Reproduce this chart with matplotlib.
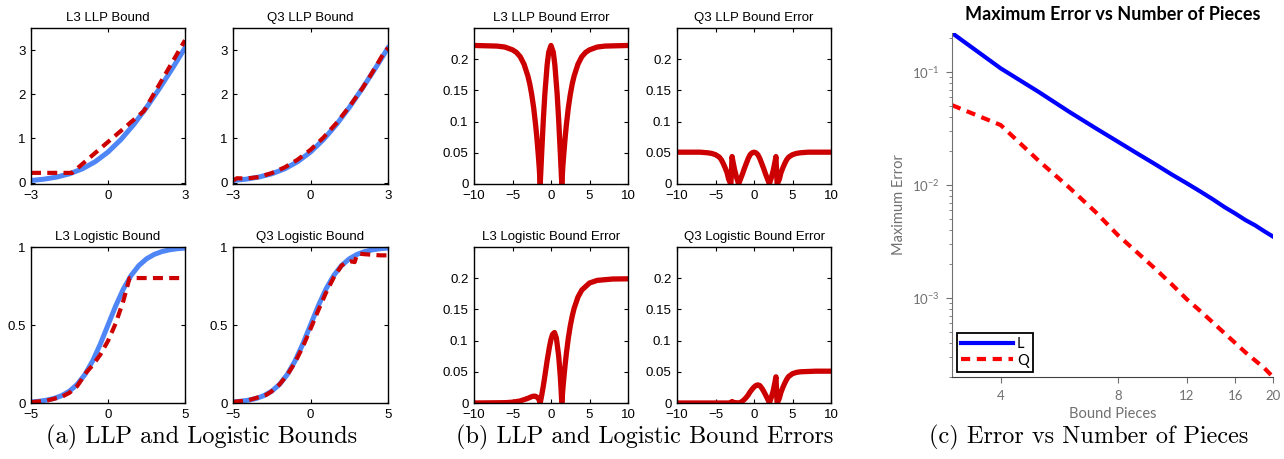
import matplotlib
matplotlib.use('Agg')
import matplotlib.pyplot as plt
import numpy as np

# ---- (a) LLP and logistic bounds ----
llp_x = [-3, -2.5, -2, -1.5, -1, -0.5, 0, 0.5, 1, 1.5, 2, 2.5, 3]
llp_true = [0.049, 0.079, 0.127, 0.201, 0.313, 0.474, 0.693, 0.974, 1.313, 1.701, 2.127, 2.579, 3.049]

l3_llp_x = [-3, -1.4, 1.4, 3]
l3_llp = [0.222, 0.222, 1.622, 3.222]

q3_llp_x = [-3, -2.85, -2.6, -2.3, -2, -1.5, -1, -0.5, 0, 0.5, 1, 1.5, 2, 2.3, 2.6, 2.85, 3]
q3_llp = [0.049, 0.100, 0.096, 0.106, 0.127, 0.217, 0.346, 0.521, 0.744, 1.021, 1.346,
          1.717, 2.127, 2.406, 2.696, 2.950, 3.049]

sig_x = [-5, -4.5, -4, -3.5, -3, -2.5, -2, -1.5, -1, -0.5, 0, 0.5, 1, 1.5, 2, 2.5, 3, 3.5, 4, 4.5, 5]
sig_true = [0.0067, 0.0110, 0.0180, 0.0293, 0.0474, 0.0759, 0.1192, 0.1824, 0.2689, 0.3775, 0.5,
            0.6225, 0.7311, 0.8176, 0.8808, 0.9241, 0.9526, 0.9707, 0.9820, 0.9890, 0.9933]

l3_sig_x = [-5, -4, -3, -2.5, -2, -1.4, -1, -0.5, 0, 0.5, 1, 1.4, 5]
l3_sig = [0.0054, 0.0147, 0.0399, 0.0657, 0.1084, 0.1973, 0.2417, 0.3097, 0.398, 0.5105, 0.6557, 0.801, 0.801]

q3_sig_x = [-5, -4, -3, -2.85, -2.5, -2, -1.5, -1, -0.5, 0, 0.5, 1, 1.5, 2, 2.3, 2.6, 2.85, 3.0,
            3.2, 3.5, 4, 4.5, 5]
q3_sig = [0.0067, 0.018, 0.0474, 0.0523, 0.0754, 0.1192, 0.1794, 0.2599, 0.3595, 0.4745, 0.5935,
          0.7071, 0.8046, 0.8808, 0.8999, 0.9079, 0.9033, 0.9526, 0.9568, 0.9537, 0.950, 0.9465, 0.9463]

# ---- (b) bound errors ----
l3_llp_err_x = [-10, -7, -6, -5, -4.5, -4, -3.5, -3, -2.75, -2.5, -2.25, -2, -1.85, -1.7, -1.55, -1.4,
                -1.2, -1, -0.8, -0.5, -0.3, 0, 0.3, 0.5, 0.8, 1, 1.2, 1.4, 1.55, 1.7, 1.85, 2, 2.25,
                2.5, 2.75, 3, 3.5, 4, 4.5, 5, 6, 7, 10]
l3_llp_err = [0.222, 0.221, 0.2195, 0.215, 0.211, 0.204, 0.192, 0.173, 0.160, 0.143, 0.122, 0.095,
              0.076, 0.054, 0.030, 0.0, 0.052, 0.102, 0.144, 0.191, 0.211, 0.222, 0.211, 0.191, 0.144,
              0.102, 0.052, 0.0, 0.030, 0.054, 0.076, 0.095, 0.122, 0.143, 0.160, 0.173, 0.192, 0.204,
              0.211, 0.215, 0.2195, 0.221, 0.222]

q3_llp_err_x = [-10, -7, -6, -5.5, -5, -4.5, -4.25, -4, -3.75, -3.5, -3.3, -3.1, -3.0, -2.85, -2.7,
                -2.5, -2.25, -2.0, -1.75, -1.5, -1.25, -1, -0.75, -0.5, -0.25, 0, 0.25, 0.5, 0.75, 1,
                1.25, 1.5, 1.75, 2.0, 2.25, 2.5, 2.7, 2.85, 3.0, 3.1, 3.3, 3.5, 3.75, 4, 4.25, 4.5, 5,
                5.5, 6, 7, 10]
q3_llp_err = [0.051, 0.051, 0.050, 0.049, 0.047, 0.043, 0.039, 0.033, 0.026, 0.018, 0.008, 0.002, 0.0,
              0.044, 0.034, 0.022, 0.010, 0.0, 0.008, 0.016, 0.025, 0.033, 0.041, 0.047, 0.050, 0.051,
              0.050, 0.047, 0.041, 0.033, 0.025, 0.016, 0.008, 0.0, 0.010, 0.022, 0.034, 0.044, 0.0,
              0.002, 0.008, 0.018, 0.026, 0.033, 0.039, 0.043, 0.047, 0.049, 0.050, 0.051, 0.051]

l3_sig_err_x = [-10, -6, -5, -4, -3, -2.5, -2.25, -2, -1.7, -1.55, -1.4, -1.2, -1, -0.8, -0.5, -0.2, 0,
                0.2, 0.45, 0.7, 1, 1.2, 1.3, 1.4, 1.55, 1.7, 1.85, 2, 2.25, 2.5, 2.75, 3, 3.5, 4, 5,
                6, 8, 10]
l3_sig_err = [0.0, 0.0005, 0.0013, 0.0033, 0.0075, 0.0102, 0.011, 0.0108, 0.0082, 0.005, 0.0, 0.013,
              0.027, 0.043, 0.068, 0.090, 0.102, 0.110, 0.113, 0.104, 0.075, 0.044, 0.024, 0.0, 0.024,
              0.0445, 0.063, 0.0798, 0.104, 0.1234, 0.139, 0.1516, 0.1697, 0.181, 0.1923, 0.1965,
              0.1987, 0.199]

q3_sig_err_x = [-10, -5, -3, -2.85, -2.7, -2, -1.75, -1.5, -1.25, -1, -0.75, -0.5, -0.25, 0, 0.25,
                0.5, 0.75, 1, 1.25, 1.5, 1.75, 2.0, 2.25, 2.5, 2.7, 2.85, 3.0, 3.1, 3.3, 3.5, 3.75, 4,
                4.25, 4.5, 5, 5.5, 6, 8, 10]
q3_sig_err = [0.0, 0.0, 0.0, 0.0024, 0.001, 0.0, 0.001, 0.003, 0.0056, 0.009, 0.013, 0.018, 0.022,
              0.0255, 0.028, 0.029, 0.028, 0.024, 0.019, 0.013, 0.007, 0.0, 0.009, 0.020, 0.032, 0.042,
              0.0, 0.002, 0.008, 0.017, 0.025, 0.032, 0.038, 0.0425, 0.047, 0.049, 0.050, 0.051, 0.051]

# ---- (c) max error vs pieces ----
pieces = list(range(3, 21))
err_L = [0.222, 0.108, 0.067, 0.0445, 0.0320, 0.0242, 0.0189, 0.0152, 0.0124, 0.0104, 0.0088,
         0.0075, 0.0064, 0.0056, 0.0049, 0.0044, 0.0039, 0.0035]
err_Q = [0.051, 0.034, 0.0165, 0.0095, 0.0058, 0.0036, 0.0025, 0.0018, 0.00132, 0.00098, 0.00077,
         0.00061, 0.00049, 0.00040, 0.00033, 0.00028, 0.00024, 0.00020]

BLUE = '#4f86f7'
RED = '#cc0000'
W, H = 1284, 459

plt.rcParams['font.family'] = ['Liberation Sans', 'DejaVu Sans']

fig = plt.figure(figsize=(W / 100, H / 100), dpi=100)


def rect(x0, y0, x1, y1):
    return [x0 / W, (H - y1) / H, (x1 - x0) / W, (y1 - y0) / H]


def small_axes(r, title, xlim, xticks, ylim, yticks):
    ax = fig.add_axes(r)
    ax.set_xlim(xlim)
    ax.set_ylim(ylim)
    ax.set_xticks(xticks)
    ax.set_xticklabels([('%g' % t).replace('-', '\u2212') for t in xticks])
    ax.set_yticks(yticks)
    ax.set_yticklabels(['%g' % t for t in yticks])
    ax.tick_params(direction='in', length=3, width=0.8, top=True, right=True,
                   labelsize=9.5, pad=4)
    for s in ax.spines.values():
        s.set_linewidth(1.0)
    ax.set_title(title, fontsize=9.5, pad=5)
    return ax


dash = (0, (2.4, 1.5))

# (a)
ax = small_axes(rect(31, 28, 185, 184), 'L3 LLP Bound', (-3, 3), [-3, 0, 3], (-0.03, 3.5), [0, 1, 2, 3])
ax.plot(llp_x, llp_true, color=BLUE, lw=3.6)
ax.plot(l3_llp_x, l3_llp, color=RED, lw=3.0, ls=dash)

ax = small_axes(rect(233, 28, 388, 184), 'Q3 LLP Bound', (-3, 3), [-3, 0, 3], (-0.03, 3.5), [0, 1, 2, 3])
ax.plot(llp_x, llp_true, color=BLUE, lw=3.6)
ax.plot(q3_llp_x, q3_llp, color=RED, lw=3.0, ls=dash)

ax = small_axes(rect(31, 247, 185, 403), 'L3 Logistic Bound', (-5, 5), [-5, 0, 5], (0, 1), [0, 0.5, 1])
ax.plot(sig_x, sig_true, color=BLUE, lw=3.6)
ax.plot(l3_sig_x, l3_sig, color=RED, lw=3.0, ls=dash)

ax = small_axes(rect(233, 247, 388, 403), 'Q3 Logistic Bound', (-5, 5), [-5, 0, 5], (0, 1), [0, 0.5, 1])
ax.plot(sig_x, sig_true, color=BLUE, lw=3.6)
ax.plot(q3_sig_x, q3_sig, color=RED, lw=3.0, ls=dash)

# (b)
eticks = [0, 0.05, 0.1, 0.15, 0.2]
xt = [-10, -5, 0, 5, 10]
for r, title, xs, ys in [
        (rect(474, 28, 628, 184), 'L3 LLP Bound Error', l3_llp_err_x, l3_llp_err),
        (rect(677, 28, 831, 184), 'Q3 LLP Bound Error', q3_llp_err_x, q3_llp_err),
        (rect(474, 247, 628, 403), 'L3 Logistic Bound Error', l3_sig_err_x, l3_sig_err),
        (rect(677, 247, 831, 403), 'Q3 Logistic Bound Error', q3_sig_err_x, q3_sig_err)]:
    ax = small_axes(r, title, (-10, 10), xt, (0, 0.25), eticks)
    ax.plot(xs, ys, color=RED, lw=3.8, solid_joinstyle='round', solid_capstyle='butt')

# (c)
GRAY = '#707070'
cfont = ['Lato', 'DejaVu Sans']
ax = fig.add_axes(rect(952, 33, 1273, 377))
ax.plot(pieces, err_L, color='#0000ff', lw=3.0, label='L')
ax.plot(pieces, err_Q, color='#ff0000', lw=3.0, ls=(0, (2.2, 1.6)), label='Q')
ax.set_xscale('log')
ax.set_yscale('log')
ax.set_xlim(3, 20)
ax.set_ylim(2.0e-4, 0.222)
ax.set_xticks([4, 8, 12, 16, 20])
ax.set_xticklabels(['4', '8', '12', '16', '20'])
ax.xaxis.set_minor_locator(matplotlib.ticker.NullLocator())
ax.spines['top'].set_visible(False)
ax.spines['right'].set_visible(False)
ax.spines['left'].set_color(GRAY)
ax.spines['bottom'].set_color('#404040')
ax.tick_params(which='both', colors=GRAY, labelcolor=GRAY, labelsize=9.5, direction='out')
ax.tick_params(which='major', length=4, pad=5)
ax.tick_params(which='minor', length=2)
for lab in ax.get_xticklabels() + ax.get_yticklabels():
    lab.set_family(cfont)
ax.set_xlabel('Bound Pieces', color=GRAY, fontsize=10.5, family=cfont, labelpad=4)
ax.set_ylabel('Maximum Error', color=GRAY, fontsize=10.5, family=cfont, labelpad=4)
ax.set_title('Maximum Error vs Number of Pieces', fontsize=13, fontweight='bold', family=cfont, pad=9)
leg = ax.legend(loc='lower left', prop={'family': cfont, 'size': 10.5}, frameon=True, fancybox=False,
                borderpad=0.3, handlelength=3.5, handletextpad=0.3, labelspacing=0.15, borderaxespad=0.35)
leg.get_frame().set_edgecolor('black')
leg.get_frame().set_linewidth(1.3)
leg.get_frame().set_alpha(1.0)

# captions
cap = dict(fontsize=17.5, family=['cmr10', 'DejaVu Serif'], ha='center', va='center')
fig.text(202 / W, 1 - 437 / H, '(a) LLP and Logistic Bounds', **cap)
fig.text(645 / W, 1 - 437 / H, '(b) LLP and Logistic Bound Errors', **cap)
fig.text(1089 / W, 1 - 437 / H, '(c) Error vs Number of Pieces', **cap)

fig.savefig('out.png', dpi=100)
